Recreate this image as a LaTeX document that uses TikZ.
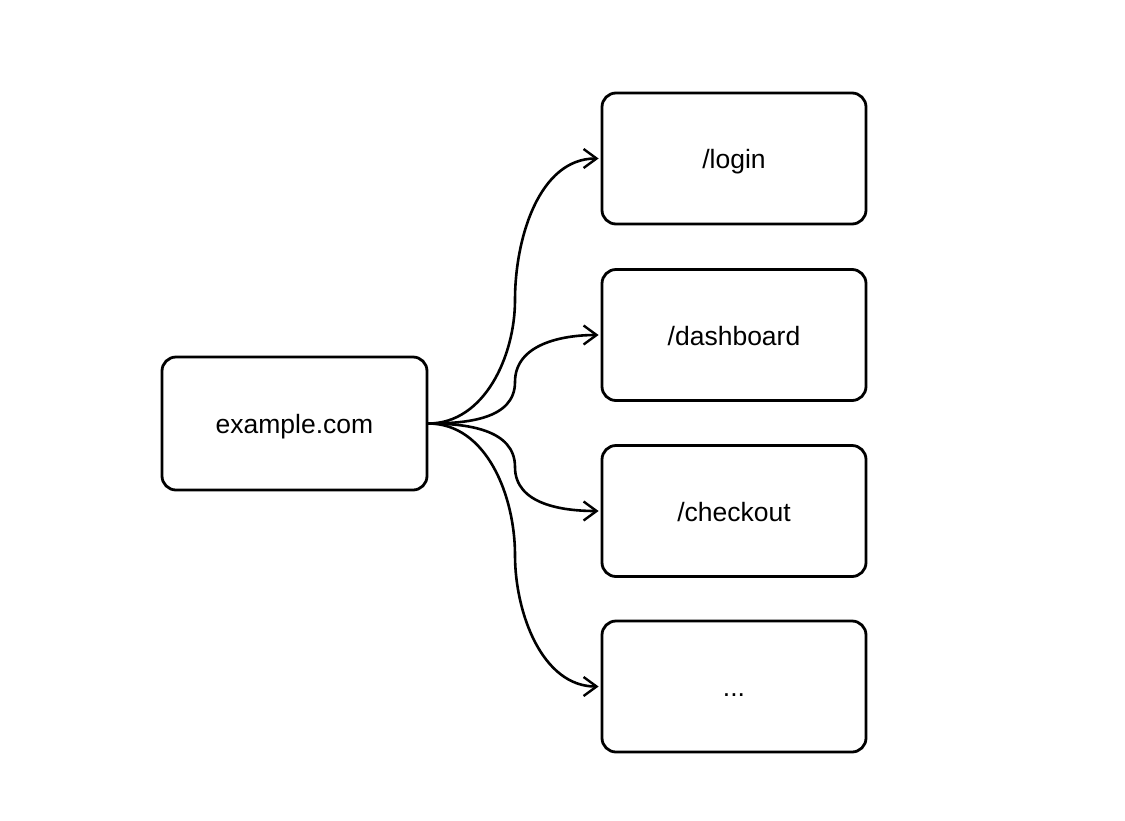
\documentclass[tikz,border=0pt]{standalone}
\usepackage{fontspec}
\setmainfont{Liberation Sans}
\usetikzlibrary{arrows.meta}
\begin{document}
\begin{tikzpicture}[x=1pt,y=-1pt,
  box/.style={draw=black, line width=2.8pt, rounded corners=14pt, minimum width=264pt, minimum height=131pt, font=\fontsize{26.5}{30}\selectfont, inner sep=0pt, text height=22pt, text depth=2pt},
  arr/.style={draw=black, line width=2.6pt, -{Straight Barb[length=13pt,width=19pt,line width=2.4pt]}, shorten >=2pt}]
\useasboundingbox (0,0) rectangle (1125,820);
\node[box, minimum width=265pt, minimum height=133pt] (src) at (294.5,423.5) {example.com};
\node[box] (login) at (734,158.5) {/login};
\node[box] (dash) at (734,335) {/dashboard};
\node[box] (check) at (734,511) {/checkout};
\node[box] (more) at (734,686.5) {...};
\coordinate (c1) at (515,300);
\coordinate (c2) at (515,382);
\coordinate (c3) at (515,467);
\coordinate (c4) at (515,555);
\draw[arr] (src.east) to[out=0,in=-90,looseness=0.95] (c1) to[out=90,in=180,looseness=0.95] (login.west);
\draw[arr] (src.east) to[out=0,in=-90,looseness=1] (c2) to[out=90,in=180,looseness=1] (dash.west);
\draw[arr] (src.east) to[out=0,in=90,looseness=1] (c3) to[out=-90,in=180,looseness=1] (check.west);
\draw[arr] (src.east) to[out=0,in=90,looseness=0.95] (c4) to[out=-90,in=180,looseness=0.95] (more.west);
\end{tikzpicture}
\end{document}
